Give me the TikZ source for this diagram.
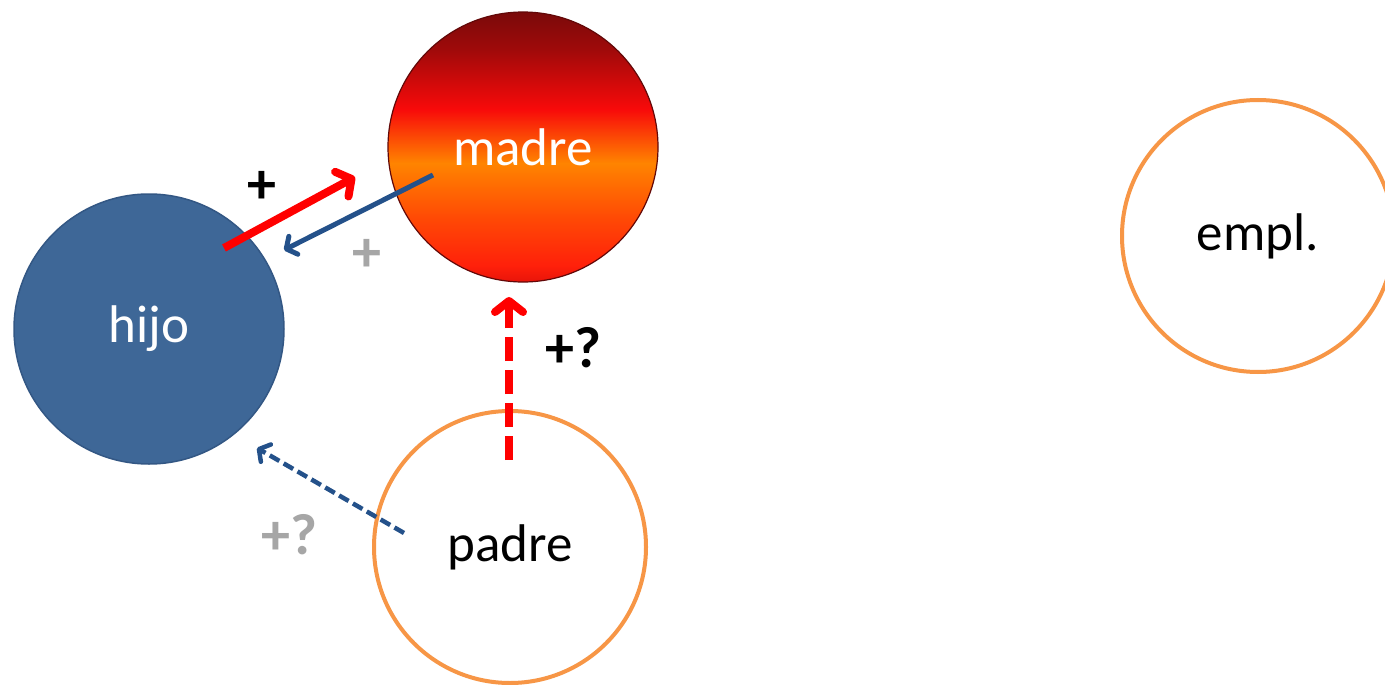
\documentclass[tikz,border=0pt]{standalone}
\usepackage{fontspec}
\setmainfont{Carlito}
\usetikzlibrary{arrows.meta}
\definecolor{mA}{HTML}{7A0A0A}
\definecolor{mB}{HTML}{A00A0A}
\definecolor{mC}{HTML}{F80A0A}
\definecolor{mD}{HTML}{FF8400}
\definecolor{mE}{HTML}{FF4A05}
\definecolor{mF}{HTML}{FF200A}
\definecolor{mG}{HTML}{E8140A}
\definecolor{hijoblue}{HTML}{3E6797}
\definecolor{hijoedge}{HTML}{335784}
\definecolor{orangeline}{HTML}{F79646}
\definecolor{arrowblue}{HTML}{24518A}
\definecolor{plusgray}{HTML}{A6A6A6}
\pgfdeclareverticalshading{madreshade}{100bp}{color(0bp)=(mG); color(25bp)=(mG); color(28bp)=(mF); color(37bp)=(mE); color(47bp)=(mD); color(57bp)=(mC); color(68bp)=(mB); color(75bp)=(mA); color(100bp)=(mA)}
\tikzset{
  x=1pt, y=-1pt,
  bubble/.style={circle, inner sep=0pt, outer sep=0pt, font=\fontsize{53}{60}\selectfont},
  filledbubble/.style={bubble, minimum size=270pt, text=white},
  outlinebubble/.style={bubble, minimum size=272pt, draw=orangeline, line width=4pt, text=black},
  thickred/.style={draw=red, line width=8pt, -{Straight Barb[length=11pt,width=28pt,line cap=round,line join=round]}},
  thinblue/.style={draw=arrowblue, line width=5pt, -{Straight Barb[length=8pt,width=20pt,line cap=round,line join=round]}},
  reddash/.style={thickred, dash pattern=on 24pt off 9pt},
  bluedash/.style={thinblue, line width=4.5pt, dash pattern=on 11pt off 5pt},
  signlbl/.style={font=\bfseries\fontsize{58}{66}\selectfont, inner sep=0pt}
}
\begin{document}
\begin{tikzpicture}
\useasboundingbox (0,0) rectangle (1385,685);
\fill[white] (0,0) rectangle (1385,685);
% nodes
\node[filledbubble, fill=hijoblue, draw=hijoedge, line width=1.5pt] (hijo) at (149,329) {hijo};
\node[filledbubble, shading=madreshade, draw=mA!80!black, line width=1.2pt] (madre) at (523,147) {madre};
\node[outlinebubble] (padre) at (510,547) {padre};
\node[outlinebubble] (empl) at (1258,236) {empl.};
% connector end points
\coordinate (rs) at (224,248);
\coordinate (re) at (355,177);
\coordinate (bs) at (433,175);
\coordinate (be) at (284,250);
\coordinate (rds) at (509,460);
\coordinate (rde) at (509,297);
\coordinate (bds) at (404,533);
\coordinate (bde) at (257,448);
% connectors
\draw[thickred] (rs) -- (re);
\draw[thinblue] (bs) -- (be);
\draw[reddash] (rds) -- (rde);
\draw[bluedash] (bds) -- (bde);
% labels
\node[signlbl, text=black] (l1) at (262,187) {+};
\node[signlbl, text=plusgray] (l2) at (367,255) {+};
\node[signlbl, text=black] (l3) at (573,348) {+?};
\node[signlbl, text=plusgray] (l4) at (289,535) {+?};
\end{tikzpicture}
\end{document}
